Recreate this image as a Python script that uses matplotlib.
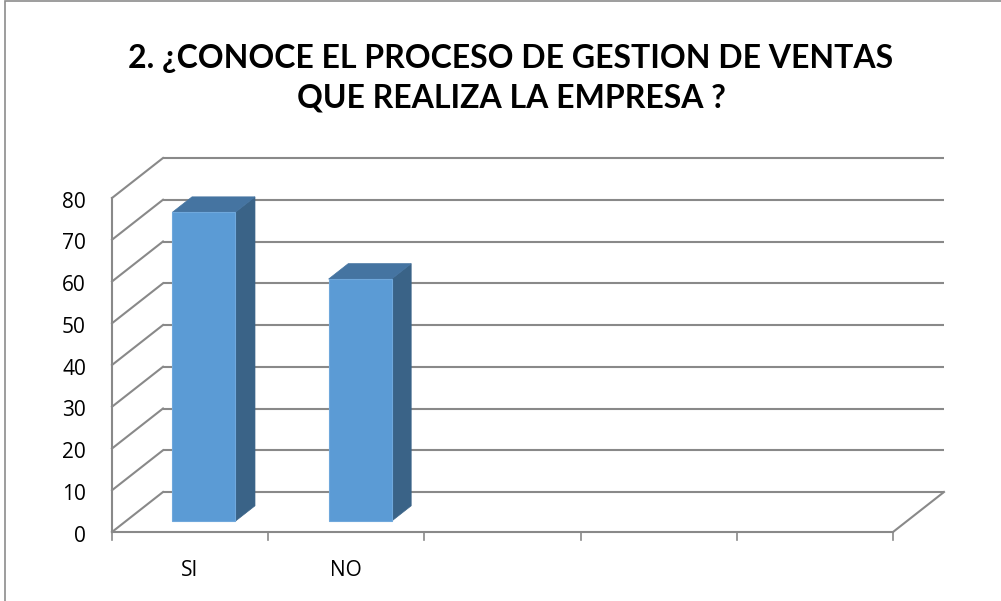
import matplotlib
matplotlib.use("Agg")
import matplotlib.pyplot as plt
from matplotlib.patches import Polygon, Rectangle

categories = ["SI", "NO"]
values = [74, 58]
n_slots = 5
y_ticks = [0, 10, 20, 30, 40, 50, 60, 70, 80]
title = "2. ¿CONOCE EL PROCESO DE GESTION DE VENTAS\nQUE REALIZA LA EMPRESA ?"

W, H = 1001, 601
fig = plt.figure(figsize=(W / 100, H / 100), dpi=100)
ax = fig.add_axes([0, 0, 1, 1])

# pixel mapping of front plane
px_per_x = 156.2
px_per_y = 4.175
x0_px, y0_px = 112, 532
ax.set_xlim(-x0_px / px_per_x, (W - x0_px) / px_per_x)
ax.set_ylim(-(H - y0_px) / px_per_y, y0_px / px_per_y)
ax.axis("off")

# depth offset (full depth) in data units
DX = 51 / px_per_x
DY = 40 / px_per_y

grid_c = "#898989"
lw = 1.5
ymax = y_ticks[-1]

# back wall gridlines + left wall diagonals
for t in y_ticks:
    ax.plot([DX, n_slots + DX], [t + DY, t + DY], color=grid_c, lw=lw, solid_capstyle="butt", zorder=1)
    ax.plot([0, DX], [t, t + DY], color=grid_c, lw=lw, zorder=1)
# front vertical axis line
ax.plot([0, 0], [0, ymax], color=grid_c, lw=lw, zorder=1)
# floor front edge and right diagonal
ax.plot([0, n_slots], [0, 0], color=grid_c, lw=lw, zorder=1)
ax.plot([n_slots, n_slots + DX], [0, DY], color=grid_c, lw=lw, zorder=1)
# category tick marks
for i in range(n_slots + 1):
    ax.plot([i, i], [0, -8 / px_per_y], color=grid_c, lw=1.2, zorder=1)

# y tick labels
for t in y_ticks:
    ax.text(-26 / px_per_x, t - 1.0, str(t), ha="right", va="center", fontsize=15,
            family="Open Sans", color="#000000")

# bars
d0, d1 = 0.27, 0.655
bw = 0.403
front_c, top_c, side_c = "#5B9BD5", "#4574A1", "#3A6387"
for i, (cat, v) in enumerate(zip(categories, values)):
    cx = i + 0.5
    xl = cx - bw / 2 + d0 * DX
    xr = xl + bw
    yb = d0 * DY
    yt = v + d0 * DY
    ddx = (d1 - d0) * DX
    ddy = (d1 - d0) * DY
    ax.add_patch(Polygon([(xr, yb), (xr + ddx, yb + ddy), (xr + ddx, yt + ddy), (xr, yt)],
                         closed=True, facecolor=side_c, edgecolor=side_c, lw=0.5, zorder=3))
    ax.add_patch(Polygon([(xl, yt), (xr, yt), (xr + ddx, yt + ddy), (xl + ddx, yt + ddy)],
                         closed=True, facecolor=top_c, edgecolor=top_c, lw=0.5, zorder=3))
    ax.add_patch(Polygon([(xl, yb), (xr, yb), (xr, yt), (xl, yt)],
                         closed=True, facecolor=front_c, edgecolor="#6FA8DC", lw=0.8, zorder=4))
    ax.text(cx, -38 / px_per_y, cat, ha="center", va="center", fontsize=15,
            family="Open Sans", color="#000000")

# title
fig.text(511 / W, 1 - 78 / H, title, ha="center", va="center", fontsize=23,
         fontweight="bold", family="Lato", linespacing=1.45, color="#000000")

# outer chart frame
fig.patches.append(Rectangle((5 / W, -0.05), 1.2, 1 - 1 / H + 0.05, transform=fig.transFigure,
                             fill=False, edgecolor="#8C8C8C", lw=1.2))

fig.savefig("out.png", dpi=100)
